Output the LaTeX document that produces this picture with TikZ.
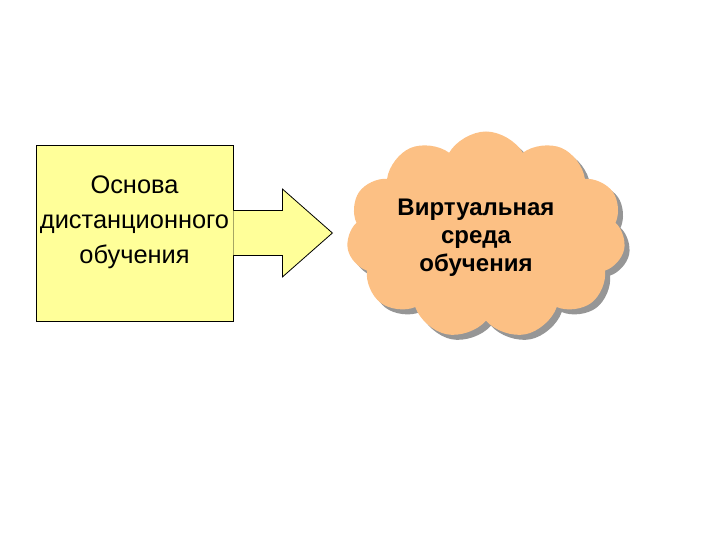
\documentclass[tikz,border=0pt]{standalone}
\usepackage{fontspec}
\setmainfont{Liberation Sans}
\usepackage{tikz}
\usetikzlibrary{positioning, shapes.symbols, shadows}

\definecolor{boxyellow}{RGB}{255,255,153}
\definecolor{cloudorange}{RGB}{252,192,132}
\definecolor{cloudgray}{RGB}{150,150,150}

\begin{document}
\begin{tikzpicture}[x=1pt, y=1pt]
	\tikzstyle{main}=[rectangle, draw=black, fill=boxyellow, line width=0.8pt, minimum width=197pt, minimum height=176pt]
	\tikzstyle{boxtext}=[align=center, font=\fontsize{25.4}{35}\selectfont]
	\tikzstyle{env}=[cloud, cloud puffs=11, cloud puff arc=120, fill=cloudorange, minimum width=279pt, minimum height=207pt, general shadow={fill=cloudgray, shadow xshift=5pt, shadow yshift=-5pt}]
	\tikzstyle{envtext}=[align=center, font=\fontsize{24}{28}\selectfont\bfseries]
	\tikzstyle{blockarrow}=[draw=black, fill=boxyellow, line width=0.8pt, line join=miter]

	\useasboundingbox (0,0) rectangle (720,540);

	\node[main] (base) at (134.5, 307) {};
	\node[boxtext] (basetext) at ([yshift=11pt]base.center) {Основа\\дистанционного\\обучения};

	\node[env, yshift=-2pt] (cloud) [right=115pt of base] {};
	\node[envtext] (cloudtext) at ([xshift=-10pt, yshift=-3pt]cloud.center) {Виртуальная\\среда\\обучения};

	% block arrow from the box towards the cloud
	\draw[blockarrow] ([yshift=22.5pt]base.east) -- ++(49,0) -- ++(0,21.5) -- ++(50,-44)
		-- ++(-50,-44) -- ++(0,21.5) -- ([yshift=-22.5pt]base.east);

\end{tikzpicture}
\end{document}
